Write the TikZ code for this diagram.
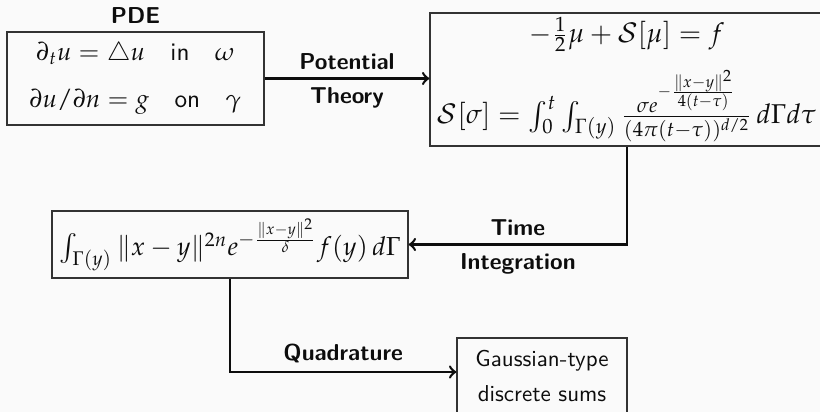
\documentclass[tikz,border=0pt]{standalone}
\usepackage{amsmath}
\usepackage{mathpazo}
\renewcommand{\familydefault}{\sfdefault}
\newlength{\du}
\setlength{\du}{0.01528cm}
\definecolor{pagecolor}{rgb}{0.980392, 0.980392, 0.980392}
\definecolor{boxcolor}{rgb}{0.200000, 0.200000, 0.200000}
\definecolor{inkcolor}{rgb}{0.050000, 0.050000, 0.050000}
\tikzset{
  stepbox/.style={draw=boxcolor, line width=0.6pt, inner sep=0pt, align=center, text=inkcolor},
  mathbox/.style={stepbox, font=\fontsize{#1}{13.6}\selectfont},
  flow/.style={-to, line width=1.1pt, draw=inkcolor},
  tag/.style={font=\bfseries, text=inkcolor},
}

\begin{document}
\begin{tikzpicture}
\pgftransformxscale{1.000000}
\pgftransformyscale{-1.000000}
\fill[pagecolor] (0\du,0\du) rectangle (820\du,412\du);
\useasboundingbox (0\du,0\du) rectangle (820\du,412\du);
% boxes
\node[mathbox=10.95, minimum width=257\du, minimum height=93\du] (pde) at (135.5\du,78.5\du)
  {$\partial_t u = \triangle u$\quad in\quad $\omega$\\[7pt]
   $\partial u/\partial n = g$\quad on\quad $\gamma$};
\node[tag, above] (pdetag) at (pde.north) {PDE};
\node[mathbox=11.8, minimum width=394\du, minimum height=133\du] (sys) at (627\du,79.5\du)
  {$-\frac{1}{2}\mu + \mathcal{S}[\mu] = f$\\[7pt]
   $\mathcal{S}[\sigma] = \int_0^t \int_{\Gamma(y)} \frac{\sigma e^{-\frac{\|x-y\|^2}{4(t-\tau)}}}{(4\pi(t-\tau))^{d/2}}\, d\Gamma d\tau$};
\node[mathbox=11.3, minimum width=356\du, minimum height=67\du] (kern) at (230\du,244.5\du)
  {$\int_{\Gamma(y)} \|x-y\|^{2n} e^{-\frac{\|x-y\|^2}{\delta}} f(y)\, d\Gamma$};
\node[stepbox, minimum width=170\du, minimum height=76\du] (gauss) at (542\du,376\du)
  {Gaussian-type\\[3pt] discrete sums};
% connectors
\draw[flow] (pde.east) -- node[tag, above] (pottag) {Potential} node[tag, below] (theotag) {Theory} (pde.east -| sys.west);
\draw[flow] (sys.south) |- node[tag, pos=0.75, above] (timetag) {Time} node[tag, pos=0.75, below] (inttag) {Integration} (kern.east);
\draw[flow] (kern.south) |- node[tag, pos=0.75, above] (quadtag) {Quadrature} ([yshift=-4\du]gauss.west);
\end{tikzpicture}
\end{document}
